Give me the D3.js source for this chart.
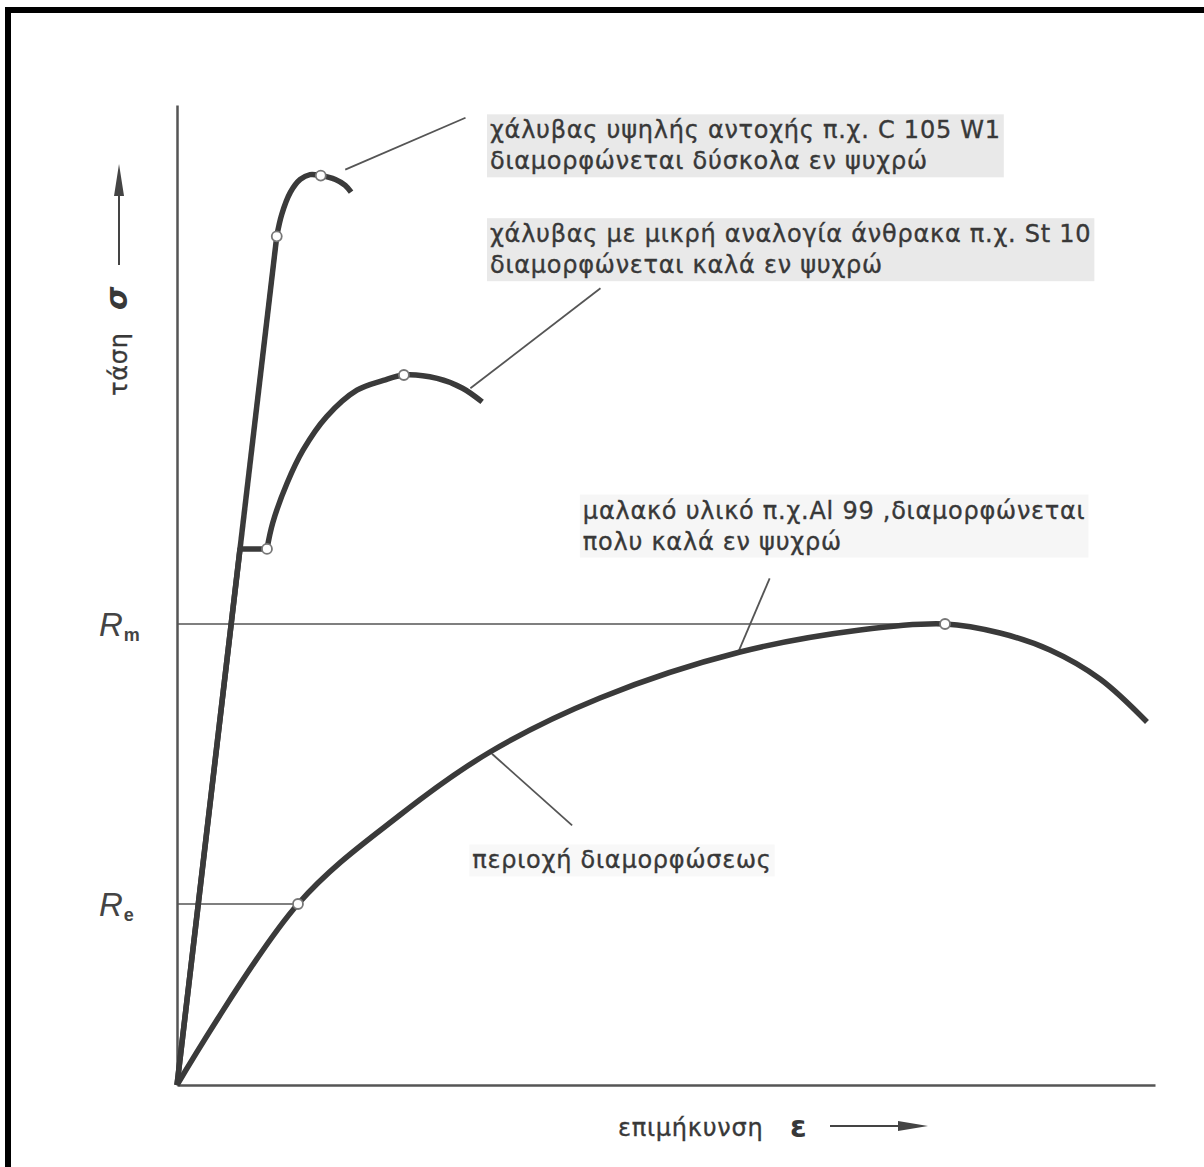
<!DOCTYPE html>
<html>
<head>
<meta charset="utf-8">
<script src="https://cdn.jsdelivr.net/npm/d3@7"></script>
<style>
  html, body { margin: 0; padding: 0; background: #fff; }
  svg { display: block; }
  text { font-family: "DejaVu Sans", sans-serif; fill: #383838; }
  .lbl { font-size: 24px; letter-spacing: 0.75px; stroke: #3a3a3a; stroke-width: 0.35px; }
</style>
</head>
<body>
<svg id="chart" width="1204" height="1167"></svg>
<script>
// ---------- DATA (strain ε, stress σ in arbitrary units 0..100) ----------
const strainDomain = [0, 100];
const stressDomain = [0, 100];

// high-strength steel C 105 W1 : elastic (straight) part + plastic (curved) part
const highStrengthElastic = [[0,0],[10.2,86.6]];
const highStrengthPlastic = [[10.2,86.6],[10.7,88.8],[11.6,91.1],[12.6,92.4],[13.6,92.9],[14.7,92.8],[16.2,92.4],[17.2,91.8],[17.8,91.1]];
const highStrengthMarkers = [[10.2,86.6],[14.7,92.8]];

// low-carbon steel St 10 : elastic line, yield plateau, hardening curve
const lowCarbonElastic = [[0,0],[6.44,54.7],[9.2,54.7]];
const lowCarbonPlastic = [[9.2,54.7],[9.8,57.4],[11.25,61.4],[12.9,64.8],[15.3,68.2],[18.4,70.9],[21.1,71.9],[23.2,72.45],[26.6,72.1],[29.2,71.1],[31.2,69.7]];
const lowCarbonMarkers = [[9.2,54.7],[23.2,72.45]];

// soft material Al 99
const softAluminium = [[0,0],[12.37,18.47],[22.8,27.55],[32.0,33.98],[43.25,39.49],[57.57,44.18],[69.84,46.43],[78.53,47.04],[84.15,46.12],[89.26,44.39],[94.38,41.43],[99.18,37.04]];
const softAluminiumMarkers = [[12.37,18.47],[78.53,47.04]];

// characteristic stresses
const stressLevels = [
  { name: "R", sub: "m", value: 47.04, until: 78.53 },
  { name: "R", sub: "e", value: 18.47, until: 12.37 }
];

// annotation texts and leader lines (data coordinates)
const labelTexts = [
  ["χάλυβας υψηλής αντοχής π.χ. C 105 W1", "διαμορφώνεται δύσκολα εν ψυχρώ"],
  ["χάλυβας με μικρή αναλογία άνθρακα π.χ. St 10", "διαμορφώνεται καλά εν ψυχρώ"],
  ["μαλακό υλικό π.χ.Al 99 ,διαμορφώνεται", "πολυ καλά εν ψυχρώ"],
  ["περιοχή διαμορφώσεως"]
];
const labelAnchors = [[32.0, 96.6], [32.0, 86.0], [41.5, 57.8], [30.2, 22.1]];
const labelShade = ["#e9e9e9", "#e9e9e9", "#f6f6f6", "#f8f8f8"];
const leaderLines = [
  [[17.2, 93.4], [29.5, 98.7]],
  [[30.0, 71.1], [43.3, 81.3]],
  [[57.4, 44.2], [60.6, 51.7]],
  [[32.2, 33.8], [40.4, 26.5]]
];
const xTitle = ["επιμήκυνση", "ε"];
const yTitle = ["τάση", "σ"];

// ---------- DRAWING ----------
const svg = d3.select("#chart");
const x = d3.scaleLinear().domain(strainDomain).range([177, 1155]);
const y = d3.scaleLinear().domain(stressDomain).range([1085, 105]);

// frame (top + left)
svg.append("rect").attr("x", 5).attr("y", 7).attr("width", 1199).attr("height", 6).attr("fill", "#000");
svg.append("rect").attr("x", 5).attr("y", 7).attr("width", 6).attr("height", 1160).attr("fill", "#000");

// axes (domain lines only)
svg.append("g").attr("transform", `translate(0,${y(0)})`)
  .call(d3.axisBottom(x).tickValues([]).tickSizeOuter(0))
  .call(g => g.select(".domain").attr("stroke", "#555").attr("stroke-width", 2.5));
svg.append("g").attr("transform", `translate(${x(0)},0)`)
  .call(d3.axisLeft(y).tickValues([]).tickSizeOuter(0))
  .call(g => g.select(".domain").attr("stroke", "#555").attr("stroke-width", 2.5));

// Rm / Re guide lines and labels
stressLevels.forEach(s => {
  svg.append("line")
    .attr("x1", x(0)).attr("x2", x(s.until))
    .attr("y1", y(s.value)).attr("y2", y(s.value))
    .attr("stroke", "#555").attr("stroke-width", 1.6);
  const t = svg.append("text").attr("x", 99).attr("y", y(s.value) + 12)
    .style("font-family", "'Liberation Sans', sans-serif");
  t.append("tspan").text(s.name).style("font-style", "italic").style("font-size", "33px").attr("fill", "#444");
  t.append("tspan").text(s.sub).style("font-size", "18px").style("font-weight", "bold").attr("dx", 1).attr("dy", 5).attr("fill", "#444");
});

// leader lines
leaderLines.forEach(l => {
  svg.append("line")
    .attr("x1", x(l[0][0])).attr("y1", y(l[0][1]))
    .attr("x2", x(l[1][0])).attr("y2", y(l[1][1]))
    .attr("stroke", "#555").attr("stroke-width", 1.8);
});

// curves
const straight = d3.line().x(d => x(d[0])).y(d => y(d[1])).curve(d3.curveLinear);
const smooth = d3.line().x(d => x(d[0])).y(d => y(d[1])).curve(d3.curveCatmullRom.alpha(0.5));
const curveStyle = p => p.attr("fill", "none").attr("stroke", "#3a3a3a").attr("stroke-width", 5.5)
  .attr("stroke-linecap", "butt").attr("stroke-linejoin", "round");
[[highStrengthElastic, straight], [highStrengthPlastic, smooth],
 [lowCarbonElastic, straight], [lowCarbonPlastic, smooth],
 [softAluminium, smooth]].forEach(([series, gen]) => {
  svg.append("path").datum(series).attr("d", gen).call(curveStyle);
});

// markers
[highStrengthMarkers, lowCarbonMarkers, softAluminiumMarkers].forEach(ms => {
  svg.selectAll(null).data(ms).enter().append("circle")
    .attr("cx", d => x(d[0])).attr("cy", d => y(d[1])).attr("r", 5)
    .attr("fill", "#fff").attr("stroke", "#777").attr("stroke-width", 1.8);
});

// labels with light shading
labelTexts.forEach((lines, i) => {
  const g = svg.append("g");
  const bg = g.append("rect").attr("fill", labelShade[i]);
  const txt = g.append("text").attr("class", "lbl")
    .attr("x", x(labelAnchors[i][0])).attr("y", y(labelAnchors[i][1]));
  lines.forEach((ln, j) => {
    txt.append("tspan").attr("x", x(labelAnchors[i][0])).attr("dy", j === 0 ? 0 : 31).text(ln);
  });
  const bb = txt.node().getBBox();
  bg.attr("x", bb.x - 3).attr("y", bb.y - 2).attr("width", bb.width + 6).attr("height", bb.height + 4);
});

// x-axis title
const xt = svg.append("g");
xt.append("text").attr("class", "lbl").attr("x", 618).attr("y", 1136).text(xTitle[0]);
xt.append("text").attr("x", 790).attr("y", 1137).style("font-size", "30px").style("font-weight", "bold").text(xTitle[1]);
xt.append("line").attr("x1", 830).attr("x2", 905).attr("y1", 1126).attr("y2", 1126).attr("stroke", "#444").attr("stroke-width", 2);
xt.append("path").attr("d", "M898,1121 L928,1126 L898,1131 Z").attr("fill", "#444");

// y-axis title (rotated)
const yt = svg.append("g").attr("transform", "translate(127,396) rotate(-90)");
yt.append("text").attr("class", "lbl").attr("x", 0).attr("y", 0).text(yTitle[0]);
yt.append("text").attr("x", 86).attr("y", 0).style("font-size", "30px").style("font-style", "italic").style("font-weight", "bold").text(yTitle[1]);
yt.append("line").attr("x1", 131).attr("x2", 205).attr("y1", -8).attr("y2", -8).attr("stroke", "#444").attr("stroke-width", 2);
yt.append("path").attr("d", "M200,-13 L232,-8 L200,-3 Z").attr("fill", "#444");
</script>
</body>
</html>
